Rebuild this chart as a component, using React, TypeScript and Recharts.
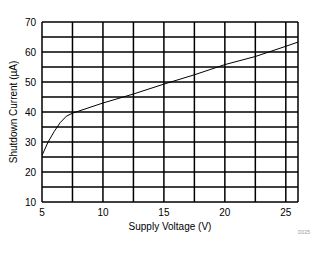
import { LineChart, Line, XAxis, YAxis, ReferenceLine, Label } from 'recharts';

const voltage = [5, 5.5, 6, 6.5, 7, 7.5, 10, 12.5, 15, 17.5, 20, 22.5, 25, 26];
const current = [25.5, 30, 33.5, 36.5, 38.6, 39.6, 43, 46, 49.3, 52.4, 55.8, 58.5, 61.9, 63.3];
const xTicks = [5, 10, 15, 20, 25];
const yTicks = [10, 20, 30, 40, 50, 60, 70];
const gridX = [7.5, 10, 12.5, 15, 17.5, 20, 22.5, 25, 26];
const gridY = [15, 20, 25, 30, 35, 40, 45, 50, 55, 60, 65, 70];

const data = voltage.map((v, i) => ({ v, i: current[i] }));

const font = '"Liberation Sans", Arial, sans-serif';
const tick = { fontSize: 10, fill: '#000', fontFamily: font };

export default function App() {
  return (
    <div style={{ position: 'absolute', left: 0, top: 0, width: 326, height: 254, background: '#fff' }}>
      <LineChart width={326} height={254} data={data} margin={{ top: 22, right: 28, bottom: 0, left: 0 }}>
        <XAxis
          dataKey="v"
          type="number"
          domain={[5, 26]}
          ticks={xTicks}
          allowDataOverflow
          height={52}
          tick={tick}
          tickLine={false}
          tickSize={5}
          axisLine={{ stroke: '#000', strokeWidth: 1.5 }}
        >
          <Label
            value="Supply Voltage (V)"
            position="insideBottom"
            offset={24}
            style={{ fontSize: 10, fill: '#000', fontFamily: font }}
          />
        </XAxis>
        <YAxis
          type="number"
          domain={[10, 70]}
          ticks={yTicks}
          allowDataOverflow
          width={42}
          tick={tick}
          tickLine={false}
          tickSize={4}
          axisLine={{ stroke: '#000', strokeWidth: 1.5 }}
        >
          <Label
            value="Shutdown Current (µA)"
            angle={-90}
            position="insideLeft"
            offset={13}
            style={{ fontSize: 10, fill: '#000', fontFamily: font, textAnchor: 'middle' }}
          />
        </YAxis>
        {gridX.map((x) => (
          <ReferenceLine key={'x' + x} x={x} stroke="#000" strokeWidth={1.5} />
        ))}
        {gridY.map((y) => (
          <ReferenceLine key={'y' + y} y={y} stroke="#000" strokeWidth={1.5} />
        ))}
        <Line
          type="linear"
          dataKey="i"
          stroke="#000"
          strokeWidth={1}
          dot={false}
          isAnimationActive={false}
        />
      </LineChart>
      <div
        style={{
          position: 'absolute',
          left: 298,
          top: 229,
          fontSize: 5,
          color: '#999',
          fontFamily: font,
        }}
      >
        D025
      </div>
    </div>
  );
}
